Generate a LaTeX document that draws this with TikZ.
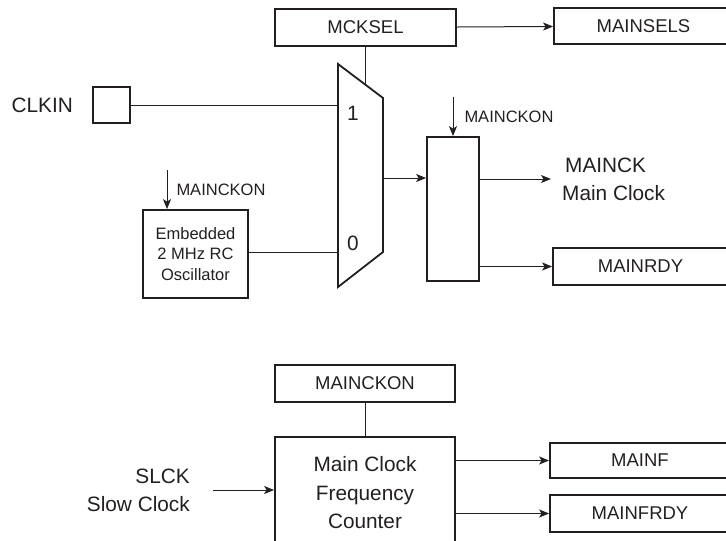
\documentclass[tikz,border=0pt]{standalone}
\usepackage{fontspec}
\setmainfont{Liberation Sans}
\definecolor{diagink}{RGB}{35,31,32}
\usetikzlibrary{arrows.meta, positioning}

\begin{document}
\begin{tikzpicture}[x=1pt, y=-1pt, color=diagink,
  regbox/.style={draw, line width=1.8pt, minimum height=37pt, inner sep=0pt, font=\fontsize{18.5}{22}\selectfont},
  blockbox/.style={draw, line width=1.8pt, inner sep=0pt, align=center},
  bigtxt/.style={font=\fontsize{20.8}{28}\selectfont, inner sep=0pt},
  smalltxt/.style={font=\fontsize{16.5}{20.5}\selectfont, inner sep=0pt},
  wire/.style={line width=1pt},
  arr/.style={-{Stealth[length=10pt, width=8pt, inset=2.5pt]}, line width=1pt}
]
\useasboundingbox (0,0) rectangle (726,541);
\clip (0,0) rectangle (726,541);

% main oscillator selection
\node[regbox, minimum width=181pt] (mcksel)   at (365.5,27.5) {MCKSEL};
\node[regbox, minimum width=179pt, minimum height=36pt] (mainsels) at (643.5,26) {MAINSELS};
\node[blockbox, minimum width=37pt, minimum height=36pt] (clkin) at (111.5,105) {};
\node[bigtxt, left=19pt of clkin] (clkin-lbl) {CLKIN};
\node[blockbox, minimum width=105pt, minimum height=88pt, font=\fontsize{16.5}{20.5}\selectfont] (osc) at (195.5,254) {Embedded\\2 MHz RC\\Oscillator};
\node[blockbox, minimum width=52pt, minimum height=144pt] (gate) at (453,209) {};
\node[regbox, minimum width=175pt] (mainrdy) at (640.5,266.5) {MAINRDY};

\draw[line width=1.8pt, line join=miter] (338,64) -- (383,98) -- (383,252) -- (338,287) -- cycle;
\coordinate (mux-in1) at (338,105);
\coordinate (mux-in0) at (338,252);
\coordinate (mux-out) at (383,178);
\coordinate (mux-sel) at (365.5,84);
\node[bigtxt] (mux-one)  at (353,113) {1};
\node[bigtxt] (mux-zero) at (353,243) {0};

\coordinate (osc-en)  at (167,170);
\coordinate (gate-en) at (453,97);

\draw[arr] (mcksel) -- (mainsels);
\draw[wire] (mcksel.south) -- (mux-sel);
\draw[wire] (clkin.east) -- (mux-in1);
\draw[wire] (osc.east |- mux-in0) -- (mux-in0);
\draw[arr] (osc-en) -- (osc-en |- osc.north) node[smalltxt, midway, right=9pt] (osc-en-lbl) {MAINCKON};
\draw[arr] (gate-en) -- (gate.north) node[smalltxt, midway, right=11pt] (gate-en-lbl) {MAINCKON};
\draw[arr] (mux-out) -- (gate.west |- mux-out);
\node[bigtxt, anchor=west, inner xsep=11pt, align=left] (mainck) at (551,179) {\hspace{3pt}MAINCK\\Main Clock};
\draw[arr] (gate.east |- mainck.west) -- (mainck.west);
\draw[arr] (gate.east |- mainrdy.west) -- (mainrdy.west);

% frequency counter
\node[regbox, minimum width=180pt] (mainckon) at (365,383.5) {MAINCKON};
\node[blockbox, minimum width=180pt, minimum height=112pt, font=\fontsize{20.8}{28.5}\selectfont] (counter) at (365,493) {Main Clock\\Frequency\\Counter};
\node[regbox, minimum width=180pt, minimum height=35pt] (mainf)    at (640,460.5) {MAINF};
\node[regbox, minimum width=180pt] (mainfrdy) at (640,513.5) {MAINFRDY};
\node[bigtxt, anchor=east, inner xsep=23pt, align=right] (slck) at (213,490) {SLCK\\Slow Clock};

\draw[wire] (mainckon) -- (counter);
\draw[arr] (slck.east) -- (counter.west |- slck.east);
\draw[arr] (counter.east |- mainf.west) -- (mainf.west);
\draw[arr] (counter.east |- mainfrdy.west) -- (mainfrdy.west);

\end{tikzpicture}
\end{document}
